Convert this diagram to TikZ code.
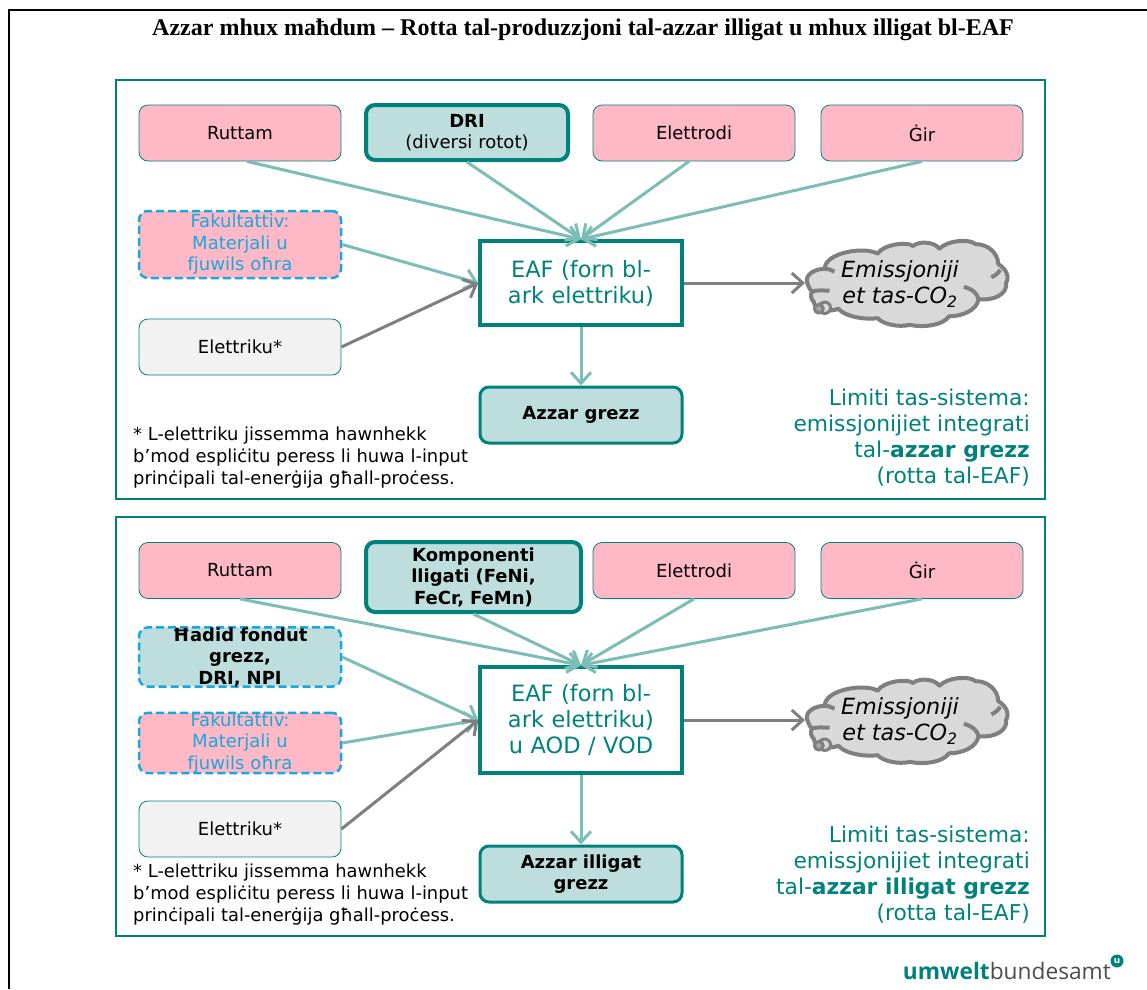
\documentclass[tikz,border=0pt]{standalone}
\usepackage{fontspec}
\setmainfont{DejaVu Sans}
\newfontfamily\titlefont{Liberation Serif}
\newfontfamily\logofont{Open Sans}
\usetikzlibrary{arrows.meta}
\definecolor{uteal}{HTML}{00827C}
\definecolor{ulight}{HTML}{BDDEDC}
\definecolor{upink}{HTML}{FFB9C6}
\definecolor{ublue}{HTML}{1AA7DD}
\definecolor{uarrow}{HTML}{7DBDB8}
\definecolor{ugray}{HTML}{7F7F7F}
\definecolor{ucloud}{HTML}{D9D9D9}
\tikzset{
  x=1pt,y=-1pt,
  panel/.style={draw=uteal,line width=1.5pt,fill=white},
  box/.style={rounded corners=9pt,align=center,inner sep=0pt,text width=#1,minimum width=202pt,
     font=\fontsize{18}{21.5}\selectfont},
  box/.default=198pt,
  inputbox/.style={box,draw=uteal,line width=0.8pt,fill=upink,minimum height=56pt},
  elecbox/.style={box,draw=uteal,line width=0.8pt,fill=black!5,minimum height=56pt},
  keybox/.style={box,draw=uteal,line width=4pt,fill=ulight,minimum height=55pt},
  optbox/.style={box,draw=ublue,line width=2.5pt,dash pattern=on 8pt off 4pt,fill=upink,minimum height=67pt,text=ublue},
  optkey/.style={optbox,fill=ulight,text=black,minimum height=56pt},
  furnace/.style={draw=uteal,line width=3.5pt,fill=white,align=center,inner sep=0pt,text width=190pt,
     minimum width=202pt,font=\fontsize{22.5}{26}\selectfont,text=uteal},
  product/.style={draw=uteal,line width=3pt,fill=ulight,rounded corners=9pt,align=center,inner sep=0pt,
     minimum width=202pt,minimum height=56pt,font=\fontsize{18}{21.5}\selectfont\bfseries},
  limit/.style={align=right,anchor=north east,inner sep=0pt,text=uteal,font=\fontsize{21.8}{26}\selectfont},
  note/.style={align=left,anchor=north west,inner sep=0pt,font=\fontsize{17.9}{22}\selectfont},
  emtext/.style={align=center,inner sep=0pt,font=\fontsize{22.3}{25.5}\selectfont\itshape},
  tealarrow/.style={draw=uarrow,line width=3pt,-{Straight Barb[length=11pt,width=20pt,line width=3pt]}},
  grayarrow/.style={draw=ugray,line width=3pt,-{Straight Barb[length=11pt,width=20pt,line width=3pt]}},
  emiss/.pic={
    \begin{scope}[yscale=0.95,xscale=0.98]
    \draw[draw=ugray,line width=4pt,fill=ucloud,line join=round]
      (-103,-2) .. controls (-105,-10) and (-95,-16) .. (-85,-16)
      .. controls (-85,-33) and (-45,-40) .. (-31,-32)
      .. controls (-25,-42) and (0,-45) .. (5,-40)
      .. controls (12,-46) and (28,-44) .. (32,-37)
      .. controls (40,-46) and (62,-48) .. (69,-42)
      .. controls (82,-42) and (92,-32) .. (92,-21)
      .. controls (100,-16) and (104,-8) .. (100,-1)
      .. controls (102,10) and (88,18) .. (72,16)
      .. controls (70,28) and (55,34) .. (42,34)
      .. controls (35,44) and (15,46) .. (2,43)
      .. controls (-10,46) and (-26,42) .. (-31,36)
      .. controls (-45,38) and (-65,34) .. (-71,26)
      .. controls (-80,30) and (-96,28) .. (-96,19)
      .. controls (-99,16) and (-100,12) .. (-98,8)
      .. controls (-100,6) and (-102,2) .. (-103,-2) -- cycle;
    \draw[draw=ugray,line width=4pt]
      (-85,-16) .. controls (-82,-16) and (-78,-15) .. (-75,-13)
      (85,-7) .. controls (89,-9) and (92,-11) .. (94,-15)
      (57,3) .. controls (65,5) and (71,10) .. (72,16)
      (-98,8) .. controls (-93,6) and (-86,7) .. (-80,7);
    \draw[draw=ugray,line width=3pt,fill=ucloud] (-85,25) circle[radius=6pt];
    \draw[draw=ugray,line width=3pt,fill=ugray!70] (-91,26) circle[radius=4.5pt];
    \end{scope}
  }
}
\begin{document}
\begin{tikzpicture}
\useasboundingbox (0,0) rectangle (1147,989);
\draw[black,line width=2.5pt] (9,989) -- (9,10) -- (1147,10);
\node[inner sep=0pt,font=\fontsize{24}{28}\selectfont\titlefont\bfseries] (title) at (583,30)
  {Azzar mhux maħdum – Rotta tal-produzzjoni tal-azzar illigat u mhux illigat bl-EAF};

\draw[panel] (116,80) rectangle (1045,499);
\draw[panel] (116,517) rectangle (1045,936);

% upper panel
\node[inputbox] (a1) at (240,133) {Ruttam};
\node[keybox] (a2) at (467,132.5) {\textbf{DRI}\\(diversi rotot)};
\node[inputbox] (a3) at (694,133) {Elettrodi};
\node[inputbox] (a4) at (922,133) {Ġir};
\node[optbox] (a5) at (240,244.5) {Fakultattiv:\\Materjali u fjuwils oħra};
\node[elecbox] (a6) at (240,347) {Elettriku*};
\node[furnace,minimum height=84pt] (aeaf) at (581,283) {EAF (forn bl-ark elettriku)};
\node[product] (aout) at (581,415) {Azzar grezz};
\coordinate (acl) at (805,283);
\pic at (908,284) {emiss};
\node[emtext] (atxt) at (900,284) {Emissjoniji\\et tas-CO\textsubscript{2}};
\draw[tealarrow] ([xshift=7pt]a1.south) -- (aeaf.north);
\draw[tealarrow] (a2.south) -- (aeaf.north);
\draw[tealarrow] ([xshift=-5pt]a3.south) -- (aeaf.north);
\draw[tealarrow] (a4.south) -- (aeaf.north);
\draw[tealarrow] (a5.east) -- (aeaf.west);
\draw[grayarrow] (a6.east) -- (aeaf.west);
\draw[grayarrow] (aeaf.east) -- (acl);
\draw[tealarrow] (aeaf.south) -- (aout.north);
\node[note] (anote) at (133,427) {* L-elettriku jissemma hawnhekk\\b’mod espliċitu peress li huwa l-input\\prinċipali tal-enerġija għall-proċess.};
\node[limit] (alim) at (1030,389) {Limiti tas-sistema:\\emissjonijiet integrati\\tal-\textbf{azzar grezz}\\(rotta tal-EAF)};

% lower panel
\node[inputbox] (b1) at (240,570.5) {Ruttam};
\node[keybox,minimum width=215pt,text width=170pt,minimum height=70pt] (b2) at (473.5,577) {\textbf{Komponenti}\\\textbf{lligati (FeNi,}\\\textbf{FeCr, FeMn)}};
\node[inputbox] (b3) at (694,570.5) {Elettrodi};
\node[inputbox] (b4) at (922,570.5) {Ġir};
\node[optkey] (b5) at (240,657) {\textbf{Ħadid fondut}\\\textbf{grezz,}\\\textbf{DRI, NPI}};
\node[optbox,minimum height=56pt] (b6) at (240,743) {Fakultattiv:\\Materjali u fjuwils oħra};
\node[elecbox] (b7) at (240,829) {Elettriku*};
\node[furnace,minimum height=106pt] (beaf) at (581,720) {EAF (forn bl-ark elettriku)\\u AOD / VOD};
\node[product] (bout) at (581,874) {Azzar illigat\\grezz};
\coordinate (bcl) at (805,720);
\pic at (908,721) {emiss};
\node[emtext] (btxt) at (900,721) {Emissjoniji\\et tas-CO\textsubscript{2}};
\draw[tealarrow] (b1.south) -- (beaf.north);
\draw[tealarrow] (b2.south) -- (beaf.north);
\draw[tealarrow] (b3.south) -- (beaf.north);
\draw[tealarrow] (b4.south) -- (beaf.north);
\draw[tealarrow] (b5.east) -- (beaf.west);
\draw[tealarrow] (b6.east) -- (beaf.west);
\draw[grayarrow] (b7.east) -- (beaf.west);
\draw[grayarrow] (beaf.east) -- (bcl);
\draw[tealarrow] (beaf.south) -- (bout.north);
\node[note] (bnote) at (133,864) {* L-elettriku jissemma hawnhekk\\b’mod espliċitu peress li huwa l-input\\prinċipali tal-enerġija għall-proċess.};
\node[limit] (blim) at (1030,826) {Limiti tas-sistema:\\emissjonijiet integrati\\tal-\textbf{azzar illigat grezz}\\(rotta tal-EAF)};

% logo
\node[anchor=base east,inner sep=0pt,font=\fontsize{22.7}{26}\selectfont\logofont] (logo) at (1111,979)
  {\textcolor{uteal}{\textbf{umwelt}}\textcolor{black!70}{bundesamt}};
\node[circle,fill=uteal,inner sep=0pt,minimum size=13pt,text=white,font=\fontsize{9}{9}\selectfont\bfseries] (logou) at (1117,961) {u};
\end{tikzpicture}
\end{document}
